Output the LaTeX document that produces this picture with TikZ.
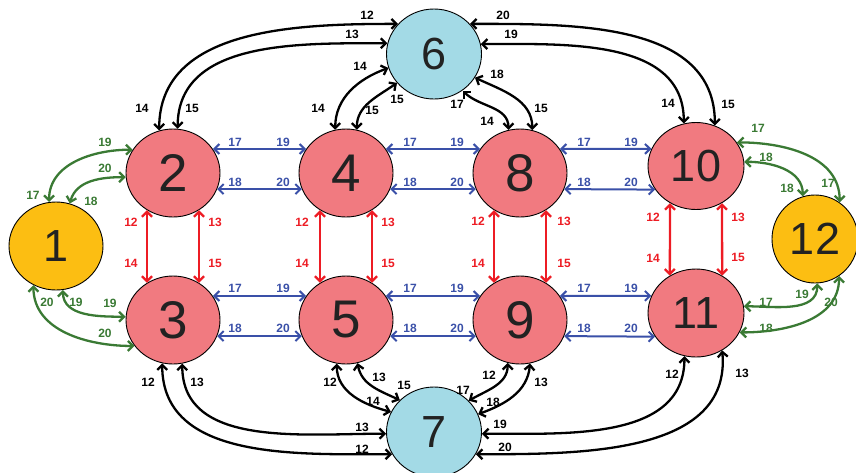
\documentclass[tikz,border=0pt]{standalone}
\usepackage{fontspec}
\setmainfont{Liberation Sans}
\usetikzlibrary{arrows.meta,shapes.geometric}
\definecolor{nred}{RGB}{241,122,128}
\definecolor{nyel}{RGB}{252,190,18}
\definecolor{nblu}{RGB}{163,218,230}
\definecolor{cgreen}{RGB}{58,122,52}
\definecolor{cblue}{RGB}{58,80,168}
\definecolor{cred}{RGB}{237,28,36}
\definecolor{ctext}{RGB}{34,34,34}
\tikzset{
 nd/.style={ellipse, draw=black, line width=0.9pt, minimum width=94pt, minimum height=88pt, inner sep=0pt, text=ctext},
 big/.style={font=\fontsize{53}{53}\selectfont},
 mid/.style={font=\fontsize{45}{45}\selectfont},
 conn/.style={line width=2.3pt, {Straight Barb[length=5pt,width=10pt]}-{Straight Barb[length=5pt,width=10pt]}},
 kc/.style={conn, draw=black},
 gc/.style={conn, draw=cgreen},
 bc/.style={conn, draw=cblue, line width=2pt},
 rc/.style={conn, draw=cred},
 lab/.style={font=\fontsize{12}{12}\selectfont\bfseries, inner sep=0pt},
}
\newcommand\lb[4]{\node[lab,text=#1] (#2) at (#3) {#4};}
\begin{document}
\begin{tikzpicture}[x=1pt,y=1pt]
\useasboundingbox (0,0) rectangle (856,-472);
% nodes
\node[nd,fill=nyel,mid] (n1) at (56,-246) {1};
\node[nd,fill=nred,big] (n2) at (173,-173) {2};
\node[nd,fill=nred,big] (n3) at (173,-320) {3};
\node[nd,fill=nred,big] (n4) at (346,-173) {4};
\node[nd,fill=nred,big] (n5) at (346,-320) {5};
\node[nd,fill=nred,big] (n8) at (520,-173) {8};
\node[nd,fill=nred,big] (n9) at (520,-320) {9};
\node[nd,fill=nred,mid,minimum width=96pt,minimum height=87pt] (n10) at (696,-166) {10};
\node[nd,fill=nred,mid,minimum width=96pt,minimum height=88pt] (n11) at (696,-313) {11};
\node[nd,fill=nyel,mid,minimum width=86pt] (n12) at (815,-239) {12};
\node[nd,fill=nblu,mid,minimum width=95pt,minimum height=90pt] (n6) at (434,-54) {6};
\node[nd,fill=nblu,mid,minimum width=95pt,minimum height=90pt] (n7) at (434,-432) {7};

% red vertical
\foreach \a/\b in {n2/n3,n4/n5,n8/n9,n10/n11}{
  \draw[rc] (\a.235) -- (\b.125);
  \draw[rc] (\a.305) -- (\b.55);
}
\lb{cred}{r1}{131,-222}{12} \lb{cred}{r2}{131,-263}{14} \lb{cred}{r3}{215,-222}{13} \lb{cred}{r4}{215,-263}{15}
\lb{cred}{r5}{302,-222}{12} \lb{cred}{r6}{302,-263}{14} \lb{cred}{r7}{388,-222}{13} \lb{cred}{r8}{388,-263}{15}
\lb{cred}{r9}{478,-221}{12} \lb{cred}{r10}{478,-263}{14} \lb{cred}{r11}{564,-221}{13} \lb{cred}{r12}{564,-263}{15}
\lb{cred}{r13}{653,-217}{12} \lb{cred}{r14}{653,-258}{14} \lb{cred}{r15}{738,-217}{13} \lb{cred}{r16}{738,-257}{15}

% blue horizontal
\draw[bc] (n2.31) -- (n4.149);
\draw[bc] (n2.340) -- (n4.200);
\draw[bc] (n3.31) -- (n5.149);
\draw[bc] (n3.340) -- (n5.200);
\draw[bc] (n4.31) -- (n8.149);
\draw[bc] (n4.340) -- (n8.200);
\draw[bc] (n5.31) -- (n9.149);
\draw[bc] (n5.340) -- (n9.200);
\draw[bc] (n8.31) -- (n10.159);
\draw[bc] (n8.340) -- (n10.210);
\draw[bc] (n9.31) -- (n11.159);
\draw[bc] (n9.340) -- (n11.210);
\lb{cblue}{b0}{235,-142}{17} \lb{cblue}{b1}{283,-142}{19} \lb{cblue}{b2}{235,-182}{18} \lb{cblue}{b3}{283,-182}{20}
\lb{cblue}{b10}{410,-142}{17} \lb{cblue}{b4}{457,-142}{19} \lb{cblue}{b5}{410,-182}{18} \lb{cblue}{b6}{457,-182}{20}
\lb{cblue}{b11}{584,-142}{17} \lb{cblue}{b7}{631,-142}{19} \lb{cblue}{b8}{584,-182}{18} \lb{cblue}{b9}{631,-182}{20}
\lb{cblue}{c0}{235,-288}{17} \lb{cblue}{c1}{283,-288}{19} \lb{cblue}{c2}{235,-328}{18} \lb{cblue}{c3}{283,-328}{20}
\lb{cblue}{c4}{410,-288}{17} \lb{cblue}{c5}{457,-288}{19} \lb{cblue}{c6}{410,-328}{18} \lb{cblue}{c7}{457,-328}{20}
\lb{cblue}{c8}{584,-288}{17} \lb{cblue}{c9}{631,-288}{19} \lb{cblue}{c10}{584,-328}{18} \lb{cblue}{c11}{631,-328}{20}

% green
\draw[gc] (n1.99) to[out=90,in=180] (n2.150);
\draw[gc] (n1.72) to[out=75,in=180] (n2.185);
\draw[gc] (n1.279) to[out=270,in=180] (n3.176);
\draw[gc] (n1.240) to[out=270,in=180] (n3.214);
\draw[gc] (n10.30) to[out=0,in=90] (n12.56);
\draw[gc] (n10.5) to[out=0,in=90] (n12.106);
\draw[gc] (n11.8) to[out=0,in=270] (n12.273);
\draw[gc] (n11.336) to[out=0,in=270] (n12.303);
\lb{cgreen}{g1}{33,-195}{17} \lb{cgreen}{g2}{91,-201}{18} \lb{cgreen}{g3}{105,-142}{19} \lb{cgreen}{g4}{105,-168}{20}
\lb{cgreen}{g5}{47,-302}{20} \lb{cgreen}{g6}{76,-302}{19} \lb{cgreen}{g7}{110,-303}{19} \lb{cgreen}{g8}{105,-333}{20}
\lb{cgreen}{g9}{758,-128}{17} \lb{cgreen}{g10}{828,-183}{17} \lb{cgreen}{g11}{766,-157}{18} \lb{cgreen}{g12}{787,-188}{18}
\lb{cgreen}{g13}{766,-302}{17} \lb{cgreen}{g14}{802,-294}{19} \lb{cgreen}{g15}{766,-328}{18} \lb{cgreen}{g16}{831,-302}{20}

% black top
\draw[kc] (n2.108) to[out=90,in=180] (n6.140);
\draw[kc] (n2.84) to[out=90,in=180] (n6.167);
\draw[kc] (n4.104) to[out=90,in=200] (n6.197);
\draw[kc] (n4.76) to[out=90,in=215] (n6.218);
\draw[kc] (n8.105) to[out=90,in=-45] (n6.308);
\draw[kc] (n8.74) to[out=90,in=-25] (n6.330);
\draw[kc] (n6.12) to[out=0,in=90] (n10.106);
\draw[kc] (n6.40) to[out=0,in=90] (n10.65);
\lb{black}{k1a}{142,-108}{14} \lb{black}{k1b}{367,-15}{12}
\lb{black}{k2a}{192,-108}{15} \lb{black}{k2b}{352,-34}{13}
\lb{black}{k3a}{318,-108}{14} \lb{black}{k3b}{360,-66}{14}
\lb{black}{k4a}{372,-110}{15} \lb{black}{k4b}{397,-99}{15}
\lb{black}{k5a}{487,-121}{14} \lb{black}{k5b}{457,-104}{17}
\lb{black}{k6a}{541,-108}{15} \lb{black}{k6b}{497,-74}{18}
\lb{black}{k7a}{511,-34}{19} \lb{black}{k7b}{668,-103}{14}
\lb{black}{k8a}{503,-15}{20} \lb{black}{k8b}{728,-104}{15}

% black bottom
\draw[kc] (n3.282) to[out=270,in=180] (n7.182);
\draw[kc] (n3.256) to[out=270,in=180] (n7.208);
\draw[kc] (n5.258) to[out=270,in=165] (n7.155);
\draw[kc] (n5.285) to[out=280,in=155] (n7.137);
\draw[kc] (n9.254) to[out=270,in=30] (n7.42);
\draw[kc] (n9.283) to[out=265,in=20] (n7.22);
\draw[kc] (n11.255) to[out=270,in=0] (n7.358);
\draw[kc] (n11.305) to[out=275,in=0] (n7.332);
\lb{black}{k9a}{197,-382}{13} \lb{black}{k9b}{362,-427}{13}
\lb{black}{k10a}{148,-382}{12} \lb{black}{k10b}{362,-449}{12}
\lb{black}{k11a}{330,-382}{12} \lb{black}{k11b}{373,-401}{14}
\lb{black}{k12a}{379,-377}{13} \lb{black}{k12b}{404,-385}{15}
\lb{black}{k13a}{489,-375}{12} \lb{black}{k13b}{463,-390}{17}
\lb{black}{k14a}{541,-382}{13} \lb{black}{k14b}{493,-402}{18}
\lb{black}{k15a}{672,-374}{12} \lb{black}{k15b}{500,-424}{19}
\lb{black}{k16a}{742,-373}{13} \lb{black}{k16b}{505,-447}{20}
\end{tikzpicture}
\end{document}
